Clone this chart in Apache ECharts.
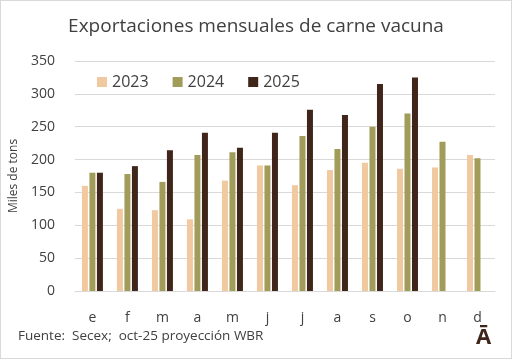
<!DOCTYPE html>
<html><head><meta charset="utf-8">
<script src="https://cdn.jsdelivr.net/npm/echarts@6/dist/echarts.min.js"></script>
<style>html,body{margin:0;padding:0;background:#fff}#w{position:relative;width:512px;height:359px}#c{width:512px;height:359px}#b{position:absolute;left:0;top:0;width:512px;height:359px;box-sizing:border-box;border:1px solid #d9d9d9;pointer-events:none}</style>
</head><body><div id="w"><div id="c"></div><div id="b"></div></div>
<script>
const months = ['e','f','m','a','m','j','j','a','s','o','n','d'];
const yTicks = [0,50,100,150,200,250,300,350];
const s2023 = [160,125,123,109,168,191,161,184,195,186,188,207];
const s2024 = [180,178,166,207,211,191,236,216,250,270,227,202];
const s2025 = [180,190,214,241,218,241,276,268,315,325,null,null];
const seriesNames = ['2023','2024','2025'];
const colors = ['#f1c9a1','#a29c5b','#40261a'];

const chart = echarts.init(document.getElementById('c'), null, {renderer:'canvas'});
const font = 'Open Sans';
chart.setOption({
  animation:false,
  title:{text:'Exportaciones mensuales de carne vacuna',left:'center',top:12,
    textStyle:{fontFamily:font,fontSize:19,fontWeight:'normal',color:'#404040'}},
  legend:{data:seriesNames,top:69,left:92,itemWidth:10,itemHeight:10,itemGap:24,
    icon:'rect',textStyle:{fontFamily:font,fontSize:16,color:'#404040'}},
  grid:{left:71,right:17,top:61,bottom:68,containLabel:false},
  xAxis:{type:'category',data:months,
    axisLine:{lineStyle:{color:'#d9d9d9'}},axisTick:{show:false},
    axisLabel:{fontFamily:font,fontSize:14,color:'#404040',margin:20}},
  yAxis:{type:'value',min:0,max:350,interval:50,
    name:'Miles de tons',nameLocation:'middle',nameGap:48,
    nameTextStyle:{fontFamily:font,fontSize:12,color:'#404040'},
    axisLine:{show:false},axisTick:{show:false},
    axisLabel:{fontFamily:font,fontSize:14,color:'#404040',margin:20},
    splitLine:{lineStyle:{color:'#d9d9d9'}}},
  graphic:[
    {type:'text',left:18,top:329,style:{text:'Fuente:  Secex;  oct-25 proyección WBR',fontFamily:font,fontSize:13.5,fill:'#404040'}},
    {type:'text',left:476,top:327,style:{text:'Ā',fontFamily:font,fontSize:22,fontWeight:'bold',fill:'#40261a'}}
  ],
  series:[
    {name:seriesNames[0],type:'bar',data:s2023,itemStyle:{color:colors[0]},barWidth:6,barGap:'25%'},
    {name:seriesNames[1],type:'bar',data:s2024,itemStyle:{color:colors[1]},barWidth:6,barGap:'25%'},
    {name:seriesNames[2],type:'bar',data:s2025,itemStyle:{color:colors[2]},barWidth:6,barGap:'25%'}
  ]
});
</script></body></html>
